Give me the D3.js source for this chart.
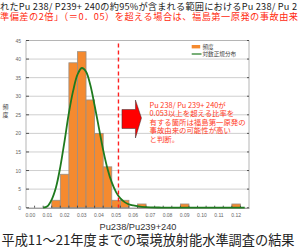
<!DOCTYPE html>
<html><head><meta charset="utf-8">
<script src="https://cdn.jsdelivr.net/npm/d3@7"></script>
<style>html,body{margin:0;padding:0;background:#fff;overflow:hidden}</style>
</head><body>
<script>
// ---- data ----
const binStarts = d3.range(26).map(i => +(i * 0.005).toFixed(3));
const binLabels = binStarts.map(v => v.toFixed(3));
const frequency = [0,0,0,2,9,39,42,29,20,11,2,2,0,1,0,0,0,0,1,0,0,0,0,0,1,0];
const curveX = [0.0075,0.01,0.0125,0.015,0.0175,0.02,0.0225,0.025,0.0275,0.03,0.0325,0.035,0.0375,0.04,0.0425,0.045,0.0475,0.05,0.0525,0.055,0.0575,0.06,0.065,0.07,0.075,0.08,0.09,0.10,0.11,0.125];
const curveY = [0,0.4,2.2,5.5,11,18,25.5,31.5,35.8,37.6,36.6,33,27.5,21.5,15.5,10.5,6.8,4.2,2.5,1.5,0.9,0.6,0.25,0.1,0.05,0.03,0,0,0,0];
const yTicks = [0,5,10,15,20,25,30,35,40,45];
const xTickLabels = ["0.00","0.01","0.02","0.03","0.04","0.05","0.06","0.07","0.08","0.09","0.10","0.11","0.12"];
const threshold = 0.0514;
const legendItems = ["頻度","対数正規分布"];
const yTitle = ["頻","度"];
const xTitle = "Pu238/Pu239+240";
const topLine1 = "れたPu 238/ P239+ 240の約95%が含まれる範囲におけるPu 238/ Pu 2";
const topLine2 = "準偏差の2倍」（＝0．05）を超える場合は、福島第一原発の事故由来";
const noteLines = ["Pu 238/ Pu 239+ 240が","0.053以上を超える比率を","有する箇所は福島第一原発の","事故由来の可能性が高い","と判断。"];
const bottomTitle = "平成11～21年度までの環境放射能水準調査の結果";

// ---- layout ----
const W = 300, H = 247;
const L = 26, R = 249, T = 40.5, B = 207.7;
const svg = d3.select("body").append("svg").attr("width", W).attr("height", H);
const fontLatin = "'Liberation Sans', Arial, sans-serif";
const fontCJK = "'Noto Sans CJK JP', 'Noto Sans', sans-serif";

const x = d3.scaleBand().domain(binLabels).range([L, R]).padding(0);
const xv = d3.scaleLinear().domain([-0.0025, 0.1275]).range([L, R]);
const y = d3.scaleLinear().domain([0, 45]).range([B, T]);

// top texts
svg.append("text").attr("x", 0).attr("y", 6).attr("dominant-baseline", "central")
  .attr("font-family", fontCJK).attr("font-size", 9.2).attr("fill", "#222")
  .attr("textLength", 297).attr("lengthAdjust", "spacing").text(topLine1);
svg.append("text").attr("x", 0).attr("y", 15.8).attr("dominant-baseline", "central")
  .attr("font-family", fontCJK).attr("font-size", 9.2).attr("fill", "#ff2a10")
  .attr("textLength", 298).attr("lengthAdjust", "spacing").text(topLine2);

// gridlines
svg.append("g").selectAll("line").data(yTicks.filter(d => d > 0 && d < 45)).join("line")
  .attr("x1", L).attr("x2", R).attr("y1", d => y(d)).attr("y2", d => y(d))
  .attr("stroke", "#cfcfcf").attr("stroke-width", 1);

// frame
svg.append("line").attr("x1", L).attr("x2", R).attr("y1", T).attr("y2", T).attr("stroke", "#b5b5b5");
svg.append("line").attr("x1", R).attr("x2", R).attr("y1", T).attr("y2", B).attr("stroke", "#b5b5b5");
svg.append("line").attr("x1", L).attr("x2", L).attr("y1", T).attr("y2", B).attr("stroke", "#b5b5b5");

// bars
svg.append("g").selectAll("rect").data(frequency.map((v, i) => ({k: binLabels[i], v}))).join("rect")
  .filter(d => d.v > 0)
  .attr("x", d => x(d.k)).attr("width", x.bandwidth())
  .attr("y", d => y(d.v)).attr("height", d => y(0) - y(d.v))
  .attr("fill", "#f58a2f").attr("stroke", "#9a8f85").attr("stroke-width", 0.8);

// y axis
const yAxis = d3.axisLeft(y).tickValues(yTicks).tickSize(0).tickPadding(5);
const gy = svg.append("g").attr("transform", `translate(${L},0)`).call(yAxis);
gy.select(".domain").remove();
gy.selectAll("text").attr("font-family", fontLatin).attr("font-size", 5).attr("fill", "#666");
// inner ticks left & right
svg.append("g").selectAll("line").data(yTicks).join("line")
  .attr("x1", L).attr("x2", L + 3).attr("y1", d => y(d)).attr("y2", d => y(d)).attr("stroke", "#333").attr("stroke-width", 0.8);
svg.append("g").selectAll("line").data(yTicks).join("line")
  .attr("x1", R - 2).attr("x2", R).attr("y1", d => y(d)).attr("y2", d => y(d)).attr("stroke", "#333").attr("stroke-width", 0.8);

// x axis
const xAxis = d3.axisBottom(x).tickSize(0).tickPadding(6)
  .tickValues(binLabels.filter((d, i) => i % 2 === 0 && i / 2 < xTickLabels.length))
  .tickFormat((d, i) => xTickLabels[i]);
const gx = svg.append("g").attr("transform", `translate(0,${B})`).call(xAxis);
gx.select(".domain").attr("stroke", "#777");
gx.selectAll("text").attr("font-family", fontLatin).attr("font-size", 5).attr("fill", "#666");
svg.append("g").selectAll("line").data(binLabels.slice(1)).join("line")
  .attr("x1", d => x(d)).attr("x2", d => x(d)).attr("y1", B - 2).attr("y2", B)
  .attr("stroke", "#333").attr("stroke-width", 0.8);

// curve
const line = d3.line().x((d, i) => xv(curveX[i])).y(d => y(d)).curve(d3.curveCatmullRom);
svg.append("path").attr("d", line(curveY)).attr("fill", "none")
  .attr("stroke", "#1e7a1e").attr("stroke-width", 1.8);

// threshold line
svg.append("line").attr("x1", xv(threshold)).attr("x2", xv(threshold)).attr("y1", T + 3).attr("y2", B)
  .attr("stroke", "#ff2020").attr("stroke-width", 1.4).attr("stroke-dasharray", "4,3");

// arrow
svg.append("path").attr("transform", `translate(${xv(threshold) + 3.5},119)`)
  .attr("d", "M0,-9.5 H13.5 V-19 L19.5,-1 L13.5,19 V9.5 H0 Z")
  .attr("fill", "#ff0000").attr("stroke", "#333").attr("stroke-width", 0.5);

// annotation
svg.append("g").selectAll("text").data(noteLines).join("text")
  .attr("x", 149.5).attr("y", (d, i) => 104.5 + i * 8.4).attr("dominant-baseline", "central")
  .attr("font-family", fontCJK).attr("font-size", 7.4).attr("fill", "#ff3a1e").text(d => d);

// legend
svg.append("rect").attr("x", 191.7).attr("y", 45).attr("width", 8.5).attr("height", 3.4).attr("fill", "#f58a2f");
svg.append("line").attr("x1", 191.7).attr("x2", 201.5).attr("y1", 54).attr("y2", 54).attr("stroke", "#1e7a1e").attr("stroke-width", 1.2);
svg.append("g").selectAll("text").data(legendItems).join("text")
  .attr("x", 202.5).attr("y", (d, i) => 46.8 + i * 7.2).attr("dominant-baseline", "central")
  .attr("font-family", fontCJK).attr("font-size", 5.6).attr("fill", "#444").text(d => d);

// y title
svg.append("g").selectAll("text").data(yTitle).join("text")
  .attr("x", 5.5).attr("y", (d, i) => 106.5 + i * 7.8).attr("text-anchor", "middle").attr("dominant-baseline", "central")
  .attr("font-family", fontCJK).attr("font-size", 6).attr("fill", "#444").text(d => d);

// x title
svg.append("text").attr("x", 99.5).attr("y", 227).attr("dominant-baseline", "central")
  .attr("font-family", fontLatin).attr("font-size", 8.6).attr("fill", "#333")
  .attr("textLength", 77).attr("lengthAdjust", "spacingAndGlyphs").text(xTitle);

// bottom title
svg.append("text").attr("x", 1.5).attr("y", 239.8).attr("dominant-baseline", "central")
  .attr("font-family", fontCJK).attr("font-size", 13.2).attr("fill", "#222")
  .attr("textLength", 293).attr("lengthAdjust", "spacing").text(bottomTitle);
</script>
</body></html>
